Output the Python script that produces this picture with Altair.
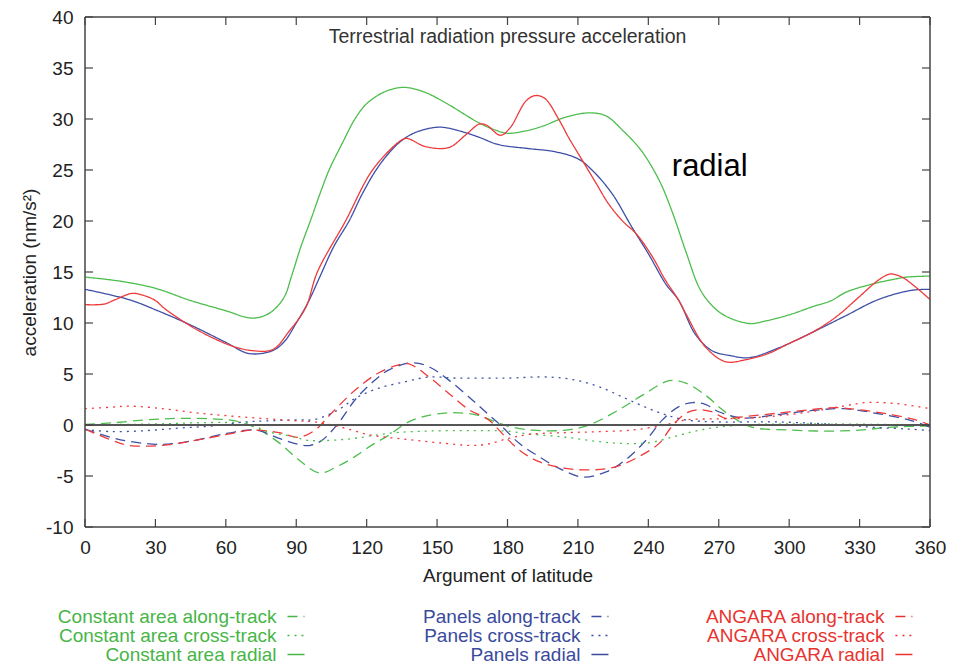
import altair as alt
import pandas as pd

# ---------------- data ----------------
X_TICKS = [0, 30, 60, 90, 120, 150, 180, 210, 240, 270, 300, 330, 360]
Y_TICKS = [-10, -5, 0, 5, 10, 15, 20, 25, 30, 35, 40]

# Constant area radial
CA_RAD_X = [0, 15, 30, 45, 60, 70, 75, 80, 85, 88, 92, 96, 100, 104, 110, 115, 120, 128, 136, 145,
            155, 168, 175, 180, 187, 195, 205, 215, 222, 229, 237, 244.6, 250, 256, 261.6, 266, 272,
            283, 290, 300, 310, 318, 324, 335, 345, 350, 360]
CA_RAD_Y = [14.5, 14.1, 13.4, 12.2, 11.2, 10.5, 10.6, 11.2, 12.6, 14.6, 17.5, 20, 22.6, 25, 27.8, 30,
            31.5, 32.7, 33.1, 32.6, 31.4, 29.6, 28.9, 28.6, 28.8, 29.3, 30.2, 30.6, 30.3, 28.9, 26.9,
            24, 21, 17, 13.5, 12, 10.8, 9.95, 10.2, 10.8, 11.6, 12.2, 13.0, 13.8, 14.3, 14.5, 14.6]

# Panels radial
PA_RAD_X = [0, 10, 20, 30, 45, 60, 70, 80, 85, 90, 95, 100, 106, 112.5, 118, 124, 130, 135, 141,
            151, 160, 168, 176, 189, 200, 210, 216, 224.5, 233, 240, 247.5, 253, 260, 267, 275, 283,
            296, 310, 324, 338, 352, 360]
PA_RAD_Y = [13.3, 12.8, 12.2, 11.3, 9.8, 8.1, 7.0, 7.3, 8.2, 10, 12.0, 14.5, 17.5, 20, 22.6, 25,
            26.8, 27.9, 28.7, 29.2, 28.8, 28.2, 27.5, 27.1, 26.8, 26.1, 25, 22.7, 19.4, 16.8, 13.8,
            12.2, 8.9, 7.3, 6.8, 6.6, 7.6, 9.1, 10.7, 12.3, 13.2, 13.3]

# ANGARA radial
AN_RAD_X = [0, 8, 13, 20, 25, 30, 34, 48, 62, 71, 80, 87, 94, 99, 111, 122.5, 134, 137, 145, 155,
            162, 168, 171, 177, 181, 188, 192, 196, 202, 206, 212, 218, 223, 229, 235, 242, 247, 253,
            256, 264.5, 273, 281.5, 291, 300, 310, 320, 330, 338, 343, 348, 354, 360]
AN_RAD_Y = [11.8, 11.85, 12.3, 12.9, 12.7, 12.2, 11.4, 9.3, 7.8, 7.3, 7.4, 9.2, 11.5, 15, 20, 25,
            27.8, 28.1, 27.3, 27.2, 28.4, 29.5, 29.4, 28.4, 29.1, 31.8, 32.3, 32.0, 29.9, 28.2, 25.9,
            23.6, 21.7, 20, 18.7, 16.4, 14.3, 12.2, 10.9, 7.6, 6.2, 6.4, 7.0, 8.0, 9.1, 10.6, 12.6,
            14.2, 14.8, 14.5, 13.5, 12.3]

# Constant area along-track
CA_ALO_X = [0, 11, 26, 40, 54, 64, 73, 83, 91, 100, 108, 115, 122, 129.5, 136.6, 143.7, 155, 166.5,
            175, 180, 190.5, 205, 214.7, 226, 237.4, 249, 256, 264.5, 270, 274.4, 284, 301, 315.6,
            330, 344, 360]
CA_ALO_Y = [0.05, 0.2, 0.5, 0.65, 0.6, 0.4, -0.3, -1.8, -3.4, -4.7, -4.0, -3.1, -2.0, -1.0, 0.15,
            0.8, 1.2, 1.0, 0.3, -0.1, -0.5, -0.5, 0, 1.3, 2.9, 4.35, 4.1, 2.9, 1.8, 1.0, -0.2, -0.5,
            -0.6, -0.5, -0.2, -0.1]

# Panels along-track
PA_ALO_X = [0, 10, 18.7, 33, 47, 61, 72.7, 82.7, 91, 96, 101, 108, 115, 122, 129.5, 139.5, 146.6,
            155, 165, 172, 177, 185, 193.4, 202, 212, 222, 230.4, 239, 246, 253, 258.8, 264.5, 270,
            280, 294.7, 309, 323, 337, 351, 360]
PA_ALO_Y = [-0.4, -1.15, -1.6, -1.9, -1.5, -0.8, -0.5, -1.3, -1.9, -2.0, -1.5, 0.2, 2.45, 4.1, 5.4,
            6.1, 5.7, 4.4, 2.45, 1.0, 0, -1.8, -3.1, -4.25, -5.1, -4.6, -3.4, -1.5, 0.5, 1.8, 2.2,
            2.0, 1.3, 0.7, 1.0, 1.4, 1.6, 1.15, 0.5, -0.2]

# ANGARA along-track
AN_ALO_X = [0, 11.5, 18.7, 33, 47, 61, 71, 82.7, 91, 98, 105, 115, 125, 133.6, 138, 146.6, 155,
            163.6, 172, 179, 185, 193.4, 204.8, 216, 226, 236, 244.6, 250, 256, 261.6, 267, 273, 280,
            294.7, 309, 320, 329.8, 344, 354, 360]
AN_ALO_Y = [-0.4, -1.5, -2.0, -2.0, -1.5, -0.9, -0.5, -0.75, -1.2, -0.5, 1.15, 3.4, 5.1, 5.9, 6.0,
            4.7, 3.1, 1.5, 0.5, -1.15, -2.45, -3.6, -4.25, -4.4, -4.1, -3.1, -1.8, -0.15, 1.15, 1.5,
            1.3, 0.65, 0.8, 1.15, 1.5, 1.7, 1.5, 1.0, 0.5, 0]

# Constant area cross-track
CA_CRO_X = [0, 15, 30, 45, 60, 70, 77, 88, 95, 105, 115, 130, 145, 160, 172, 180, 190, 205, 218,
            228, 240, 250, 260, 270, 285, 300, 320, 340, 360]
CA_CRO_Y = [0.0, 0.05, 0.1, 0.2, 0.25, 0.15, -0.6, -1.1, -1.5, -1.5, -1.3, -0.8, -0.6, -0.55, -0.55,
            -0.6, -0.9, -1.2, -1.6, -1.8, -1.75, -1.2, -0.6, -0.2, 0.05, 0.1, 0.1, 0.05, 0.0]

# Panels cross-track
PA_CRO_X = [0, 11.5, 26, 40, 54, 68.5, 77, 91, 98, 108, 115, 125, 136.6, 146.6, 158, 172, 180,
            197.7, 209, 219, 230.4, 240.3, 247.4, 256, 270, 295, 323, 337, 351, 360]
PA_CRO_Y = [-0.45, -0.65, -0.55, -0.3, -0.1, 0.3, 0.4, 0.5, 0.55, 1.5, 2.6, 3.6, 4.25, 4.7, 4.6,
            4.6, 4.6, 4.7, 4.4, 3.75, 2.6, 1.6, 1.0, 0.5, 0.3, 0.3, 0, -0.25, -0.4, -0.55]

# ANGARA cross-track
AN_CRO_X = [0, 11.5, 18.7, 33, 47, 61, 75.6, 91, 98, 108, 122, 136.6, 151, 165, 172, 180.6, 190,
            205, 219, 233, 247, 256, 270, 280, 295, 309, 323, 333, 345.6, 360]
AN_CRO_Y = [1.6, 1.75, 1.85, 1.6, 1.2, 0.9, 0.65, 0.4, 0.3, -0.15, -1.0, -1.4, -1.75, -2.0, -1.85,
            -1.3, -0.9, -0.75, -0.65, -0.5, 0, 0.5, 0.6, 0.65, 0.9, 1.3, 1.85, 2.2, 2.1, 1.6]

MODELS = ["Constant area", "Panels", "ANGARA"]
COMPONENTS = ["along-track", "cross-track", "radial"]
MODEL_COLORS = ["#4dbd4d", "#3e50a6", "#ee3a3a"]
TEXT_COLORS = ["#47b547", "#3a4a9c", "#e8332f"]
COMP_DASH = [[10, 6], [2, 5], [1, 0]]

SERIES = [
    ("Constant area", "radial", CA_RAD_X, CA_RAD_Y),
    ("Panels", "radial", PA_RAD_X, PA_RAD_Y),
    ("ANGARA", "radial", AN_RAD_X, AN_RAD_Y),
    ("Constant area", "along-track", CA_ALO_X, CA_ALO_Y),
    ("Panels", "along-track", PA_ALO_X, PA_ALO_Y),
    ("ANGARA", "along-track", AN_ALO_X, AN_ALO_Y),
    ("Constant area", "cross-track", CA_CRO_X, CA_CRO_Y),
    ("Panels", "cross-track", PA_CRO_X, PA_CRO_Y),
    ("ANGARA", "cross-track", AN_CRO_X, AN_CRO_Y),
]

rows = []
for model, comp, xs, ys in SERIES:
    for i, (xv, yv) in enumerate(zip(xs, ys)):
        rows.append({"model": model, "comp": comp, "series": model + " " + comp,
                     "deg": xv, "acc": yv, "i": i})
df = pd.DataFrame(rows)

W, H = 845, 510
FONT = "Liberation Sans"
AX = "#444444"

xscale = alt.Scale(domain=[0, 360], nice=False, zero=False)
yscale = alt.Scale(domain=[-10, 40], nice=False, zero=False)
color_scale = alt.Scale(domain=MODELS, range=MODEL_COLORS)
dash_scale = alt.Scale(domain=COMPONENTS, range=COMP_DASH)

xaxis = alt.Axis(values=X_TICKS, ticks=False, domain=False, grid=False, labelFontSize=19,
                 labelColor="#222222", labelPadding=11, labelFlush=False,
                 title="Argument of latitude",
                 titleFontSize=19, titleFontWeight="normal", titleColor="#222222",
                 titlePadding=9, labelFont=FONT, titleFont=FONT)
yaxis = alt.Axis(values=Y_TICKS, ticks=False, domain=False, grid=False, labelFontSize=19,
                 labelColor="#222222", labelPadding=12, title="acceleration (nm/s²)",
                 titleFontSize=19, titleFontWeight="normal", titleColor="#222222",
                 titlePadding=6, labelFont=FONT, titleFont=FONT,
                 labelExpr="'' + datum.value")

lines = alt.Chart(df).mark_line(interpolate="catmull-rom", strokeWidth=1.3, clip=True).encode(
    x=alt.X("deg:Q", scale=xscale, axis=xaxis),
    y=alt.Y("acc:Q", scale=yscale, axis=yaxis),
    color=alt.Color("model:N", scale=color_scale, legend=None),
    strokeDash=alt.StrokeDash("comp:N", scale=dash_scale, legend=None),
    detail="series:N",
    order="i:Q",
)

zero = alt.Chart(pd.DataFrame({"acc": [0]})).mark_rule(color="#555555", strokeWidth=2).encode(
    y=alt.Y("acc:Q", scale=yscale, axis=yaxis))

xt = pd.DataFrame({"deg": X_TICKS})
yt = pd.DataFrame({"acc": Y_TICKS})
TL = 8
tick_bottom = alt.Chart(xt).mark_rule(color=AX, strokeWidth=1.2).encode(
    x=alt.X("deg:Q", scale=xscale, axis=xaxis), y=alt.value(H), y2=alt.value(H - TL))
tick_top = alt.Chart(xt).mark_rule(color=AX, strokeWidth=1.2).encode(
    x=alt.X("deg:Q", scale=xscale, axis=xaxis), y=alt.value(0), y2=alt.value(TL))
tick_left = alt.Chart(yt).mark_rule(color=AX, strokeWidth=1.2).encode(
    y=alt.Y("acc:Q", scale=yscale, axis=yaxis), x=alt.value(0), x2=alt.value(TL))
tick_right = alt.Chart(yt).mark_rule(color=AX, strokeWidth=1.2).encode(
    y=alt.Y("acc:Q", scale=yscale, axis=yaxis), x=alt.value(W - TL), x2=alt.value(W))

one = pd.DataFrame({"a": [0]})
frame = [
    alt.Chart(one).mark_rule(color=AX, strokeWidth=1.5).encode(x=alt.value(0), x2=alt.value(W), y=alt.value(0)),
    alt.Chart(one).mark_rule(color=AX, strokeWidth=1.5).encode(x=alt.value(0), x2=alt.value(W), y=alt.value(H)),
    alt.Chart(one).mark_rule(color=AX, strokeWidth=1.5).encode(y=alt.value(0), y2=alt.value(H), x=alt.value(0)),
    alt.Chart(one).mark_rule(color=AX, strokeWidth=1.5).encode(y=alt.value(0), y2=alt.value(H), x=alt.value(W)),
]

ANNOT_X = [250]
ANNOT_Y = [25.3]
ANNOT_T = ["radial"]
annot = alt.Chart(pd.DataFrame({"deg": ANNOT_X, "acc": ANNOT_Y, "t": ANNOT_T})).mark_text(
    align="left", baseline="middle", fontSize=31, font=FONT, color="black").encode(
    x=alt.X("deg:Q", scale=xscale, axis=xaxis), y=alt.Y("acc:Q", scale=yscale, axis=yaxis), text="t:N")

main = alt.layer(lines, zero, tick_bottom, tick_top, tick_left, tick_right, *frame, annot).properties(
    width=W, height=H,
    title=alt.TitleParams("Terrestrial radiation pressure acceleration", fontSize=19.5,
                          fontWeight="normal", color="#333333", font=FONT, frame="group",
                          anchor="middle", offset=-39),
)

# ---------------- legend panel ----------------
leg_rows = []
for ci, m in enumerate(MODELS):
    for ri, c in enumerate(COMPONENTS):
        leg_rows.append({"model": m, "comp": c, "label": f"{m} {c}", "col": ci, "row": ri})
ldf = pd.DataFrame(leg_rows)
lx = alt.Scale(domain=[-0.63, 2.15], nice=False, zero=False)
ly = alt.Scale(domain=[-0.5, 2.5], nice=False, zero=False, reverse=True)
text_scale = alt.Scale(domain=MODELS, range=TEXT_COLORS)

leg_text = alt.Chart(ldf).mark_text(align="right", baseline="middle", fontSize=19, font=FONT).encode(
    x=alt.X("col:Q", scale=lx, axis=None),
    y=alt.Y("row:Q", scale=ly, axis=None),
    text="label:N",
    color=alt.Color("model:N", scale=text_scale, legend=None),
)
leg_line = alt.Chart(ldf).mark_rule(strokeWidth=1.3, xOffset=11, x2Offset=28).encode(
    x=alt.X("col:Q", scale=lx, axis=None),
    x2="col:Q",
    y=alt.Y("row:Q", scale=ly, axis=None),
    color=alt.Color("model:N", scale=color_scale, legend=None),
    strokeDash=alt.StrokeDash("comp:N", scale=dash_scale, legend=None),
)
legend = alt.layer(leg_text, leg_line).properties(width=W, height=57)

chart = alt.vconcat(main, legend, spacing=22).resolve_scale(color="independent").properties(
    padding={"left": 12, "top": 0, "right": 5, "bottom": 0}
).configure(font=FONT).configure_view(stroke="transparent", strokeWidth=0)

chart.save("out.html", embed_options={"renderer": "svg", "actions": False})
